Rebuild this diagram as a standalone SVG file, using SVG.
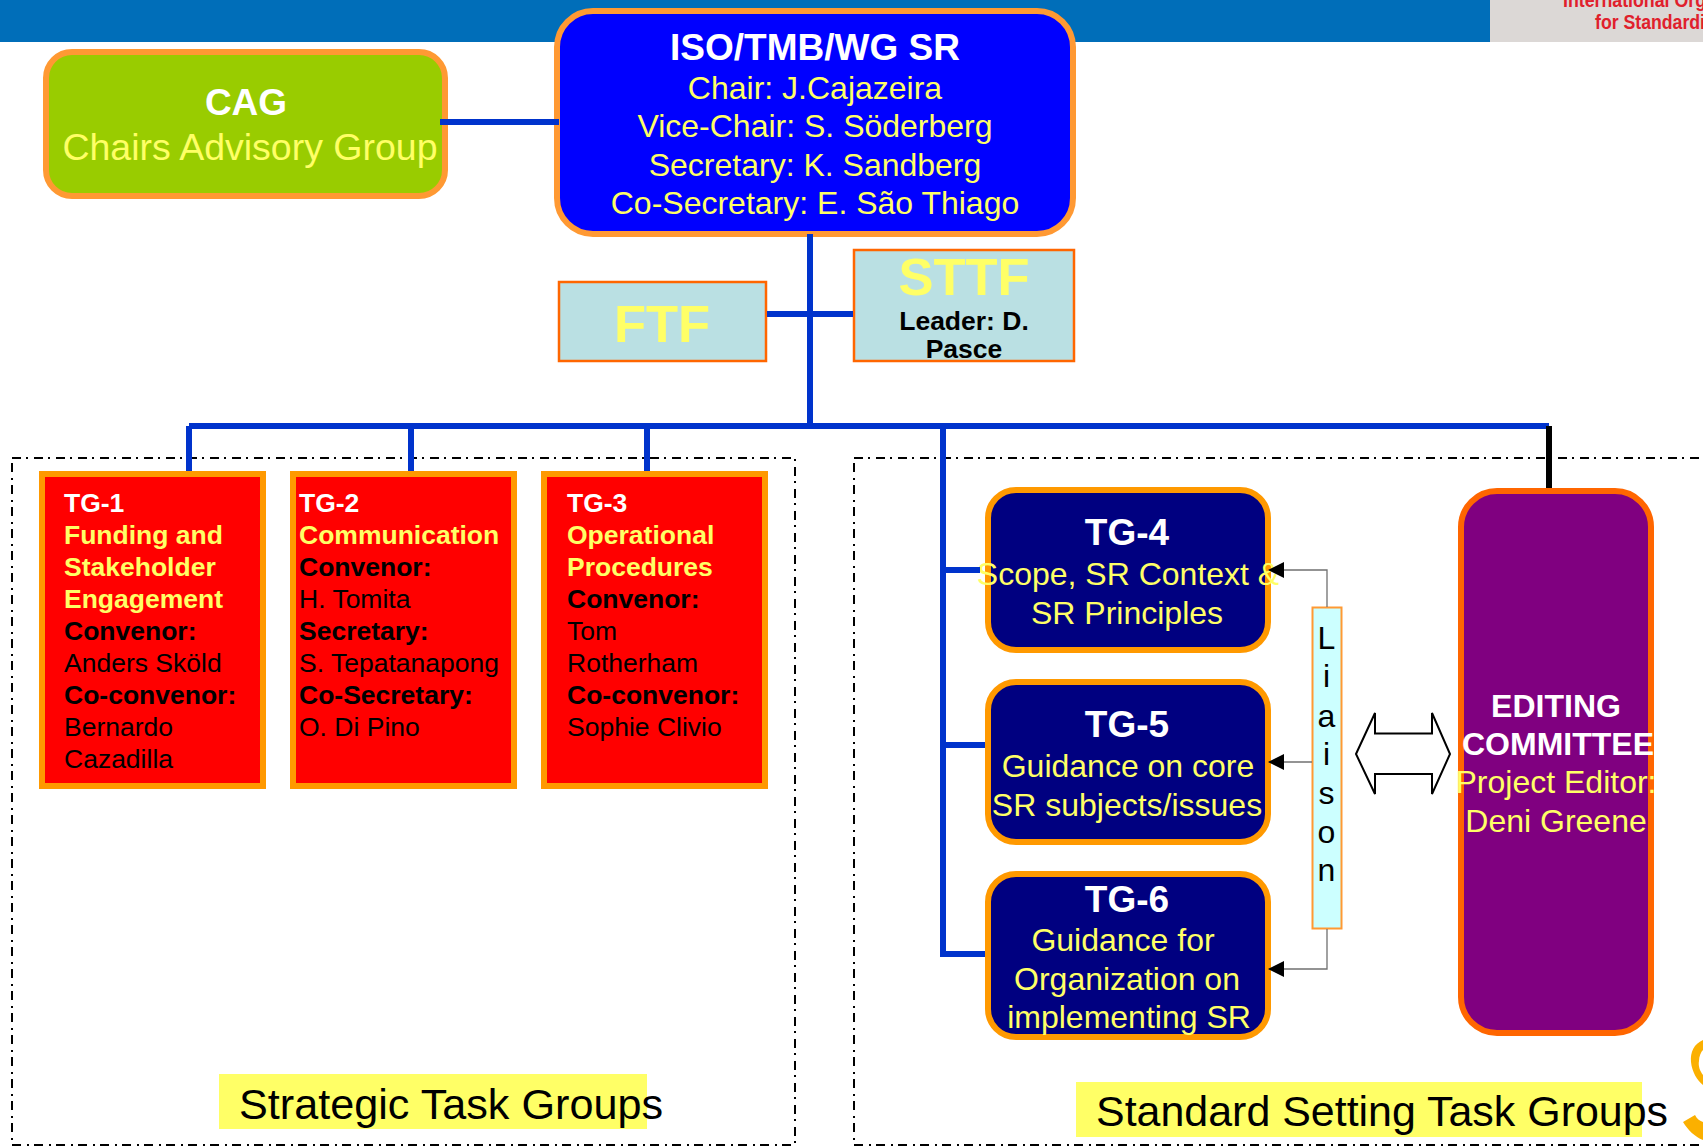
<svg xmlns="http://www.w3.org/2000/svg" width="1703" height="1146" viewBox="0 0 1703 1146">
<style>
text{font-family:"Liberation Sans",Arial,sans-serif;fill:#000}
.b{font-weight:bold}.w{fill:#fff}.y{fill:#ff6}.m{text-anchor:middle}
.t1{font-size:32px}.t2{font-size:37px}.tg{font-size:26.500px}
.red{fill:#f00;stroke:#f90;stroke-width:6}
.navy{fill:#000080;stroke:#f90;stroke-width:6}
.task{fill:#bae0e3;stroke:#f60;stroke-width:2.500}
.big{font-size:52.500px}
.blue{fill:none;stroke:#03c;stroke-width:6}
.grey{fill:none;stroke:#707070;stroke-width:1.300}
.dash{fill:none;stroke:#000;stroke-width:2;stroke-dasharray:9 5 2 6}
.lab{font-size:43.200px}
</style>
<defs><marker id="ah" markerUnits="userSpaceOnUse" markerWidth="16" markerHeight="16" refX="15" refY="8" orient="auto"><path d="M0 0L16 8L0 16Z" fill="#000"/></marker></defs>
<g id="header">
<rect x="0" y="0" width="1490" height="42" fill="#006eb9"/>
<rect x="1490" y="0" width="213" height="42" fill="#dcd8d6"/>
<text x="1563" y="7" font-size="20" class="b" style="fill:#e0202c" textLength="143" lengthAdjust="spacingAndGlyphs">International Org</text>
<text x="1595" y="29" font-size="20" class="b" style="fill:#e0202c" textLength="110" lengthAdjust="spacingAndGlyphs">for Standardi</text>
</g>
<g id="logo" fill="#fbb000">
<path d="M1703 1040C1694 1044 1690 1052 1691 1062C1692 1072 1697 1080 1703 1085V1075C1700 1071 1698 1066 1699 1061C1699 1056 1701 1052 1703 1050Z"/>
<path d="M1683 1122L1695 1115C1697 1119 1700 1121 1703 1122V1140C1695 1137 1688 1130 1683 1122Z"/>
</g>
<g id="strategic-group">
<rect class="dash" x="12" y="458" width="783" height="687"/>
<rect x="219" y="1074" width="428" height="55" fill="#ff6"/>
<text class="lab" x="239" y="1119">Strategic Task Groups</text>
</g>
<g id="standard-group">
<rect class="dash" x="854" y="458" width="860" height="687"/>
<rect x="1076" y="1082" width="566" height="55" fill="#ff6"/>
<text class="lab" x="1096" y="1126" style="font-size:42.950px">Standard Setting Task Groups</text>
</g>
<g id="cag">
<rect x="46" y="52" width="399" height="144" rx="26" fill="#9c0" stroke="#f93" stroke-width="6"/>
<text class="b w m" x="246" y="115" font-size="37">CAG</text>
<text class="y m" x="250" y="160" font-size="37.500">Chairs Advisory Group</text>
</g>
<g id="wgsr">
<rect x="557" y="11" width="516" height="223" rx="36" fill="#00f" stroke="#f93" stroke-width="6"/>
<text class="b w m t2" x="815" y="60">ISO/TMB/WG SR</text>
<text class="y m t1" x="815" y="99">Chair: J.Cajazeira</text>
<text class="y m t1" x="815" y="137">Vice-Chair: S. Söderberg</text>
<text class="y m t1" x="815" y="176">Secretary: K. Sandberg</text>
<text class="y m t1" x="815" y="214">Co-Secretary: E. São Thiago</text>
</g>
<g id="ftf">
<rect class="task" x="559" y="282" width="207" height="79"/>
<text class="b y m big" x="662" y="342">FTF</text>
</g>
<g id="sttf">
<rect class="task" x="854" y="250" width="220" height="111"/>
<text class="b y m big" x="964" y="295">STTF</text>
<text class="b m tg" x="964" y="330">Leader: D.</text>
<text class="b m tg" x="964" y="358">Pasce</text>
</g>
<g id="tg1">
<rect class="red" x="42" y="474" width="221" height="312"/>
<text class="b w tg" x="64" y="512">TG-1</text>
<text class="b y tg" x="64" y="544">Funding and</text>
<text class="b y tg" x="64" y="576">Stakeholder</text>
<text class="b y tg" x="64" y="608">Engagement</text>
<text class="b tg" x="64" y="640">Convenor:</text>
<text class="tg" x="64" y="672">Anders Sköld</text>
<text class="b tg" x="64" y="704">Co-convenor:</text>
<text class="tg" x="64" y="736">Bernardo</text>
<text class="tg" x="64" y="768">Cazadilla</text>
</g>
<g id="tg2">
<rect class="red" x="293" y="474" width="221" height="312"/>
<text class="b w tg" x="299" y="512">TG-2</text>
<text class="b y tg" x="299" y="544">Communication</text>
<text class="b tg" x="299" y="576">Convenor:</text>
<text class="tg" x="299" y="608">H. Tomita</text>
<text class="b tg" x="299" y="640">Secretary:</text>
<text class="tg" x="299" y="672">S. Tepatanapong</text>
<text class="b tg" x="299" y="704">Co-Secretary:</text>
<text class="tg" x="299" y="736">O. Di Pino</text>
</g>
<g id="tg3">
<rect class="red" x="544" y="474" width="221" height="312"/>
<text class="b w tg" x="567" y="512">TG-3</text>
<text class="b y tg" x="567" y="544">Operational</text>
<text class="b y tg" x="567" y="576">Procedures</text>
<text class="b tg" x="567" y="608">Convenor:</text>
<text class="tg" x="567" y="640">Tom</text>
<text class="tg" x="567" y="672">Rotherham</text>
<text class="b tg" x="567" y="704">Co-convenor:</text>
<text class="tg" x="567" y="736">Sophie Clivio</text>
</g>
<g id="tg4">
<rect class="navy" x="988" y="490" width="280" height="160" rx="28"/>
<text class="b w m t2" x="1127" y="545">TG-4</text>
<text class="y m t1" x="1128" y="585">Scope, SR Context &amp;</text>
<text class="y m t1" x="1127" y="624">SR Principles</text>
</g>
<g id="tg5">
<rect class="navy" x="988" y="682" width="280" height="160" rx="28"/>
<text class="b w m t2" x="1127" y="737">TG-5</text>
<text class="y m t1" x="1128" y="777">Guidance on core</text>
<text class="y m t1" x="1127" y="816">SR subjects/issues</text>
</g>
<g id="tg6">
<rect class="navy" x="988" y="874" width="280" height="163" rx="28"/>
<text class="b w m t2" x="1127" y="912">TG-6</text>
<text class="y m t1" x="1123" y="951">Guidance for</text>
<text class="y m t1" x="1127" y="990">Organization on</text>
<text class="y m t1" x="1129" y="1028">implementing SR</text>
</g>
<g id="editing">
<rect x="1461" y="491" width="190" height="542" rx="36" fill="#800080" stroke="#f60" stroke-width="6"/>
<text class="b w m t1" x="1556" y="717">EDITING</text>
<text class="b w m t1" x="1558" y="755">COMMITTEE</text>
<text class="y m t1" x="1556" y="793">Project Editor:</text>
<text class="y m t1" x="1556" y="832">Deni Greene</text>
</g>
<g id="liaison">
<rect x="1312.500" y="607.500" width="29" height="321" fill="#cff" stroke="#f93" stroke-width="2"/>
<text class="m t1" x="1326.500" y="649">L</text>
<text class="m t1" x="1326.500" y="687">i</text>
<text class="m t1" x="1326.500" y="727">a</text>
<text class="m t1" x="1326.500" y="765">i</text>
<text class="m t1" x="1326.500" y="804">s</text>
<text class="m t1" x="1326.500" y="843">o</text>
<text class="m t1" x="1326.500" y="881">n</text>
</g>
<g id="connectors">
<path class="blue" d="M440 122H559"/>
<path class="blue" d="M810 234V426"/>
<path class="blue" d="M767 314H853"/>
<path class="blue" d="M189 426H1549"/>
<path class="blue" d="M189 426V471"/>
<path class="blue" d="M411 426V471"/>
<path class="blue" d="M647 426V471"/>
<path class="blue" d="M943 426V957"/>
<path class="blue" d="M943 570H980"/>
<path class="blue" d="M943 745H985"/>
<path class="blue" d="M943 954H985"/>
<path d="M1549 426V488" fill="none" stroke="#000" stroke-width="6"/>
<path class="grey" d="M1327 607V570H1269" marker-end="url(#ah)"/>
<path class="grey" d="M1312 762H1269" marker-end="url(#ah)"/>
<path class="grey" d="M1327 929V969H1269" marker-end="url(#ah)"/>
<path d="M1356 754L1375 713V733.500H1432V713L1450 754L1432 794V774H1375V794Z" fill="#fff" stroke="#000" stroke-width="2"/>
</g>
</svg>
